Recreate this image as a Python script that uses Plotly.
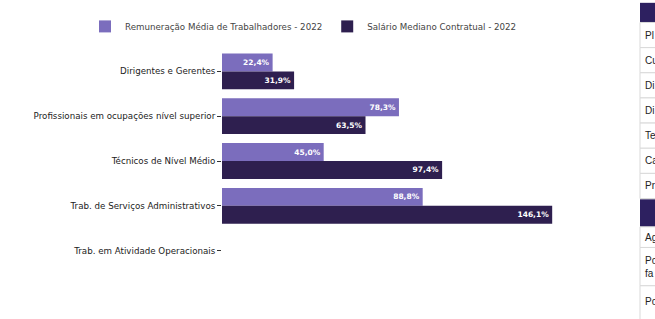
import plotly.graph_objects as go

# ---- data ----
categories = [
    "Dirigentes e Gerentes",
    "Profissionais em ocupações nível superior",
    "Técnicos de Nível Médio",
    "Trab. de Serviços Administrativos",
    "Trab. em Atividade Operacionais",
]
series_names = ["Remuneração Média de Trabalhadores - 2022",
                "Salário Mediano Contratual - 2022"]
remuneracao_media = [22.4, 78.3, 45.0, 88.8, None]
salario_mediano = [31.9, 63.5, 97.4, 146.1, None]

# fragment of a neighbouring table cut off at the right edge of the screenshot
table_fragment_top = ["Pl", "Cu", "Di", "Di", "Te", "Ca", "Pr"]
table_fragment_bottom = ["Ag", "Po<br>fa", "Po"]

# ---- styling ----
LIGHT = "#7B6DBD"
DARK = "#2E1F4F"
HEADER = "#2D2060"
W, H = 655, 319
ML, MR, MT, MB = 222, 60, 45, 46
PW, PH = W - ML - MR, H - MT - MB
FONT = "DejaVu Sans"

def px_x(px):
    return (px - ML) / PW

def px_y(py):
    return (H - MB - py) / PH

fig = go.Figure()
for name, vals, col in [(series_names[0], remuneracao_media, LIGHT),
                        (series_names[1], salario_mediano, DARK)]:
    fig.add_trace(go.Bar(
        y=categories, x=vals, name=name, orientation="h",
        marker=dict(color=col, line=dict(width=0)),
        texttemplate="%{x:.1f}%", textposition="inside",
        insidetextanchor="end",
        insidetextfont=dict(color="white", size=7.5, family=FONT, weight="bold"),
        cliponaxis=False,
    ))

shapes = []
annotations = []
# table fragment: top header
shapes.append(dict(type="rect", xref="paper", yref="paper",
                   x0=px_x(640), x1=px_x(660), y0=px_y(18), y1=px_y(-2),
                   fillcolor=HEADER, line=dict(width=0)))
row_h = 25.6
for i, t in enumerate(table_fragment_top):
    y0 = 18 + i * row_h
    shapes.append(dict(type="rect", xref="paper", yref="paper",
                       x0=px_x(640), x1=px_x(660), y0=px_y(y0 + row_h), y1=px_y(y0),
                       fillcolor="white", line=dict(color="#d9d9d9", width=1)))
    annotations.append(dict(xref="paper", yref="paper", x=px_x(643), y=px_y(y0 + row_h / 2),
                            text=t, showarrow=False, xanchor="left", yanchor="middle",
                            font=dict(family="Liberation Sans", size=10, color="#222")))
# second header
shapes.append(dict(type="rect", xref="paper", yref="paper",
                   x0=px_x(640), x1=px_x(660), y0=px_y(226), y1=px_y(198),
                   fillcolor=HEADER, line=dict(width=0)))
rows_b = [(226, 247), (247, 286), (286, 325)]
for (a, b), t in zip(rows_b, table_fragment_bottom):
    shapes.append(dict(type="rect", xref="paper", yref="paper",
                       x0=px_x(640), x1=px_x(660), y0=px_y(b), y1=px_y(a),
                       fillcolor="white", line=dict(color="#d9d9d9", width=1)))
    yc = (a + b) / 2 if b < 300 else a + 16
    annotations.append(dict(xref="paper", yref="paper", x=px_x(643), y=px_y(yc),
                            text=t, showarrow=False, xanchor="left", yanchor="middle",
                            align="left",
                            font=dict(family="Liberation Sans", size=10, color="#222")))

fig.update_layout(
    width=W, height=H,
    margin=dict(l=ML, r=MR, t=MT, b=MB, pad=0),
    paper_bgcolor="white", plot_bgcolor="white",
    barmode="group", bargap=0.2, bargroupgap=0,
    separators=",.",
    font=dict(family=FONT, size=8.7, color="#333"),
    showlegend=True,
    legend=dict(orientation="h", x=px_x(85), xanchor="left",
                y=px_y(22), yanchor="middle",
                font=dict(family=FONT, size=8.7, color="#444"),
                bgcolor="rgba(0,0,0,0)", itemclick=False),
    xaxis=dict(range=[0, PW / 2.26], showgrid=False, zeroline=False,
               showticklabels=False, ticks="", showline=False),
    yaxis=dict(autorange="reversed", showgrid=False, zeroline=False,
               ticks="outside", ticklen=4, tickcolor="#333", tickwidth=1,
               showline=False, tickfont=dict(family=FONT, size=8.7, color="#222")),
    shapes=shapes, annotations=annotations,
)

fig.write_html(
    "out.html", config={"displayModeBar": False},
    post_script=("document.body.style.margin='0';document.body.style.padding='0';"
                 "var d=document.getElementById('{plot_id}');"
                 "d.style.position='absolute';d.style.top='0';d.style.left='0';"),
)
